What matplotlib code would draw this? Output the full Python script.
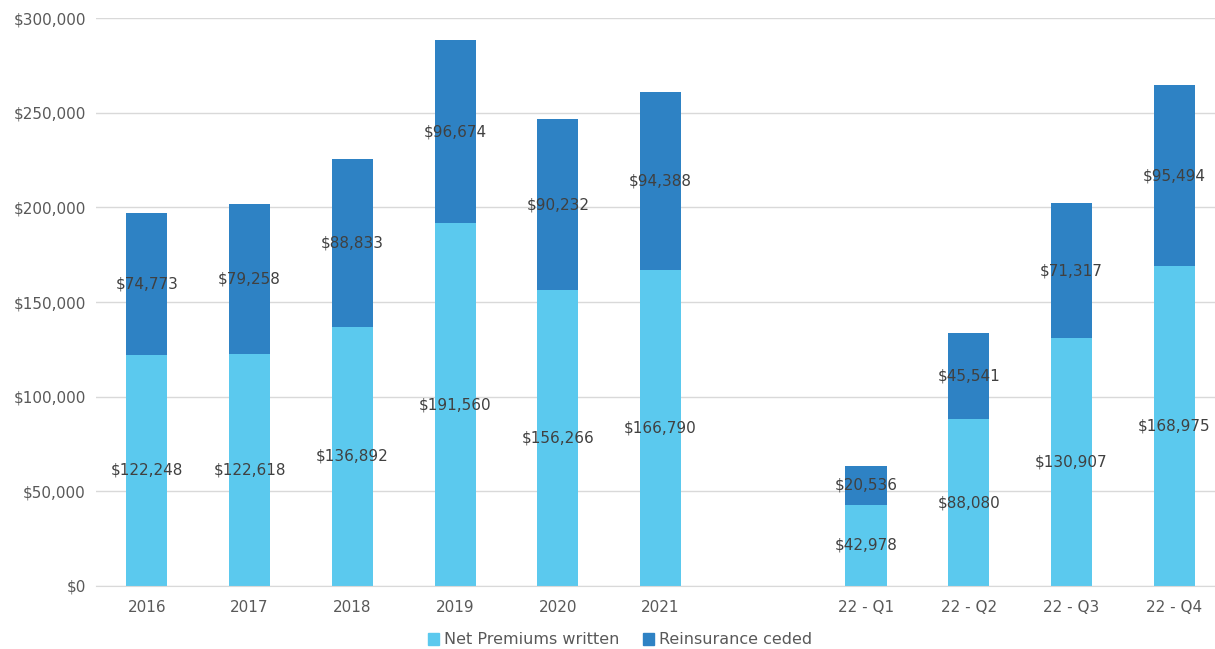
import matplotlib
matplotlib.use("Agg")
import matplotlib.pyplot as plt
from matplotlib.ticker import FuncFormatter
from matplotlib.patches import Patch

categories = ["2016", "2017", "2018", "2019", "2020", "2021", "",
              "22 - Q1", "22 - Q2", "22 - Q3", "22 - Q4"]
net_premiums = [122248, 122618, 136892, 191560, 156266, 166790, None,
                42978, 88080, 130907, 168975]
reinsurance = [74773, 79258, 88833, 96674, 90232, 94388, None,
               20536, 45541, 71317, 95494]

c_net = "#5BC9EE"
c_re = "#2E82C4"
txt = "#404040"
tick_c = "#595959"
grid_c = "#D9D9D9"

plt.rcParams["font.family"] = ["DejaVu Sans"]

fig = plt.figure(figsize=(12.15, 6.49), dpi=100)
W, H = 1215, 649
ax = fig.add_axes([95.5 / W, (H - 586) / H, 1130 / W, 568 / H])

xs = [i for i, v in enumerate(net_premiums) if v is not None]
nv = [net_premiums[i] for i in xs]
rv = [reinsurance[i] for i in xs]

ax.bar(xs, nv, width=0.4, color=c_net, zorder=2, label="Net Premiums written")
ax.bar(xs, rv, width=0.4, bottom=nv, color=c_re, zorder=2, label="Reinsurance ceded")

for x, n, r in zip(xs, nv, rv):
    ax.text(x, n / 2, f"${n:,}", ha="center", va="center", fontsize=11, color=txt, zorder=3)
    ax.text(x, n + r / 2, f"${r:,}", ha="center", va="center", fontsize=11, color=txt, zorder=3)

ax.set_xlim(-0.5, len(categories) - 0.5)
ax.set_ylim(0, 300000)
ax.set_yticks(range(0, 300001, 50000))
ax.yaxis.set_major_formatter(FuncFormatter(lambda v, p: f"${int(v):,}"))
ax.set_xticks(range(len(categories)))
ax.set_xticklabels(categories)
ax.tick_params(axis="both", length=0, labelsize=11, colors=tick_c)
ax.tick_params(axis="x", pad=10)
ax.tick_params(axis="y", pad=7)
ax.grid(axis="y", color=grid_c, linewidth=1, zorder=0)
for s in ["top", "right", "left"]:
    ax.spines[s].set_visible(False)
ax.spines["bottom"].set_color(grid_c)

handles = [Patch(color=c_net, label="Net Premiums written"),
           Patch(color=c_re, label="Reinsurance ceded")]
fig.legend(handles=handles, loc="center", bbox_to_anchor=(620 / W, 1 - 640 / H),
           ncol=2, frameon=False, fontsize=11.5, handlelength=0.7, handleheight=0.7,
           handletextpad=0.3, columnspacing=1.5, labelcolor=tick_c)

fig.savefig("out.png", dpi=100)
